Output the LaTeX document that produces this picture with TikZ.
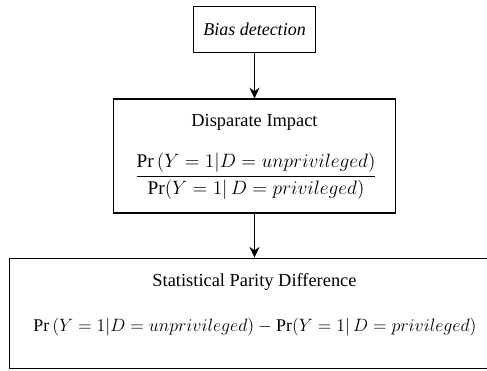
\documentclass[tikz,border=0pt]{standalone}
\usepackage{fix-cm}
\usepackage{amsmath}
\usepackage{fontspec}
\setmainfont{Liberation Serif}
\usetikzlibrary{arrows.meta}
\tikzset{
    stagebox/.style={draw,rectangle,line width=0.9pt,inner sep=0pt},
}
\begin{document}
\begin{tikzpicture}[x=0.75pt,y=-0.75pt]
        \useasboundingbox (0,0) rectangle (487,371);
        \coordinate (BD) at (254.5,29.5);
        \coordinate (DI) at (254.5,156);
        \coordinate (SP) at (254.5,313.5);
        \node[stagebox,minimum width=92pt,minimum height=35pt] (bias) at (BD) {};
        \node[stagebox,minimum width=211pt,minimum height=85.5pt] (disp) at (DI) {};
        \node[stagebox,minimum width=368pt,minimum height=83pt] (spd) at (SP) {};
        \begin{scope}[->,>={Stealth[length=8pt,width=7.5pt]},line width=0.9pt]
            \draw (bias) -- (disp);
            \draw (disp) -- (spd);
        \end{scope}
        \node at (BD) {\fontsize{13.5}{16}\selectfont\itshape Bias detection};
        \node at (254.5,122) {\fontsize{13.8}{16}\selectfont Disparate Impact};
        \node at (256,176) {\fontsize{14.5}{18}\selectfont$\dfrac{\Pr\,(Y = 1|D = unprivileged)}{\Pr(Y = 1|\,D = privileged)}$};
        \node at (254.5,282) {\fontsize{13.8}{16}\selectfont Statistical Parity Difference};
        \node at (255,327) {\fontsize{13.4}{16}\selectfont$\Pr\,(Y = 1|D = unprivileged) - \Pr(Y = 1|\,D = privileged)$};
    \end{tikzpicture}
\end{document}
